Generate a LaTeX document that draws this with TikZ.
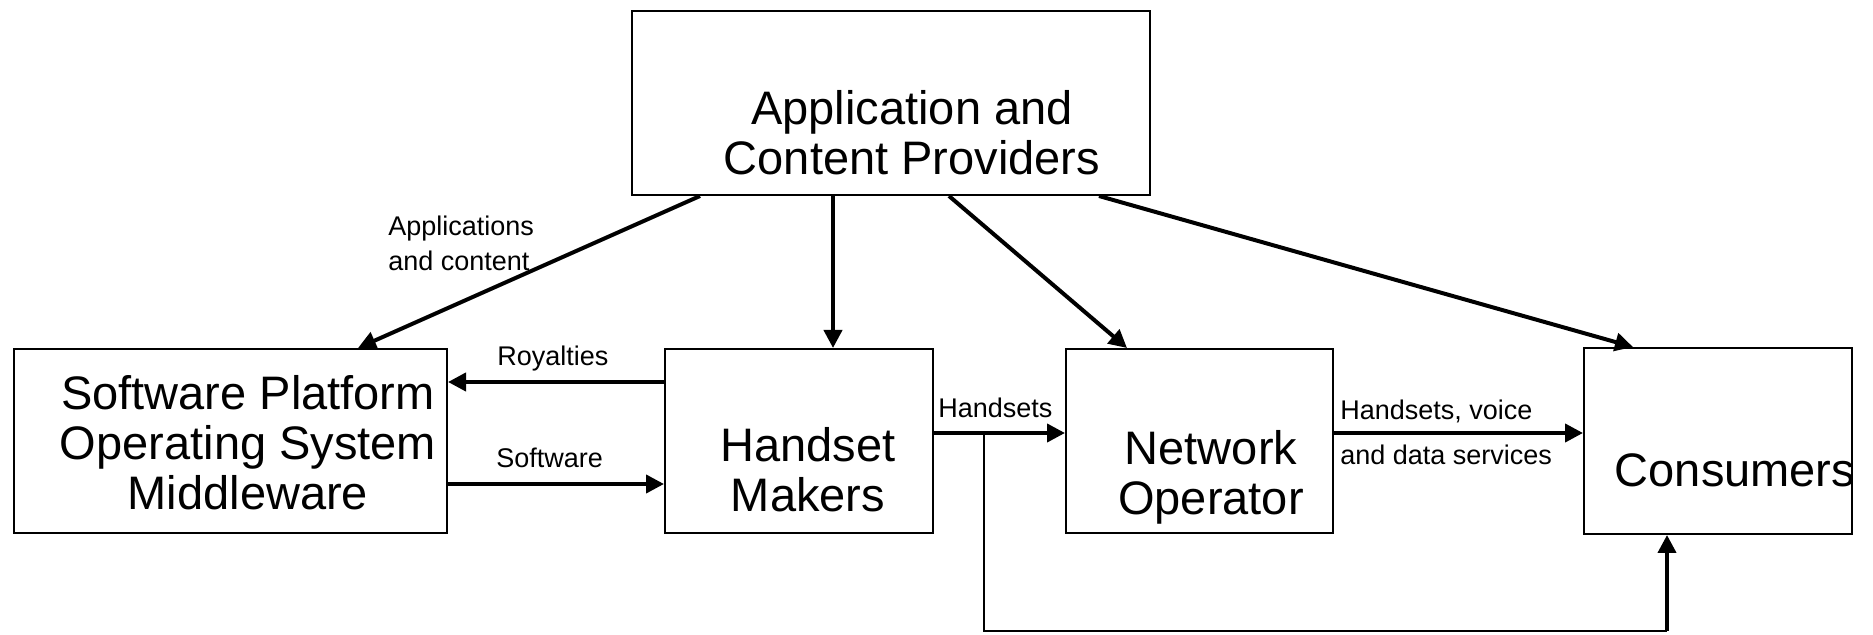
\documentclass[tikz,border=0pt]{standalone}
\usepackage{fontspec}
\setmainfont{Liberation Sans}
\usetikzlibrary{arrows.meta,calc}
\tikzset{
  box/.style={draw, line width=1pt, rectangle, inner sep=0pt, minimum height=92pt},
  bigtxt/.style={font=\fontsize{23.5}{25}\selectfont, align=center, inner sep=0pt},
  smalltxt/.style={font=\fontsize{13.5}{17.5}\selectfont, inner sep=0pt, align=left},
  arr/.style={line width=2pt, -{Triangle[length=9pt,width=9pt]}},
  thinline/.style={line width=1pt}
}
\begin{document}
\begin{tikzpicture}[x=0.5pt,y=-0.5pt]
\useasboundingbox (0,0) rectangle (1873,635);
% boxes
\node[box, minimum width=259pt] (top) at (891,103) {};
\node[box, minimum width=216.5pt] (sp) at (230.5,441) {};
\node[box, minimum width=134pt] (hm) at (799,441) {};
\node[box, minimum width=133.5pt] (no) at (1199.5,441) {};
\node[box, minimum width=134pt, minimum height=93pt] (co) at (1718,441) {};
% box texts
\node[bigtxt] (topT) at (912,133) {Application and\\Content Providers};
\node[bigtxt] (spT) at (248,443) {Software Platform\\Operating System\\Middleware};
\node[bigtxt] (hmT) at (808,470) {Handset\\Makers};
\node[bigtxt] (noT) at (1211,477) {Network\\Operator};
\node[bigtxt] (coT) at (1735,470) {Consumers};
% connectors from top
\draw[arr] ([xshift=-95.5pt]top.south) -- ([xshift=63.75pt]sp.north);
\draw[arr] ([xshift=-29pt]top.south) -- ([xshift=17pt]hm.north);
\draw[arr] ([xshift=29pt]top.south) -- ([xshift=-36.25pt]no.north);
\draw[arr] ([xshift=104pt]top.south) -- ([xshift=-42.5pt]co.north);
% horizontal
\draw[arr] ([yshift=29.5pt]hm.west) -- ([yshift=29.5pt]sp.east);
\draw[arr] ([yshift=-21.5pt]sp.east) -- ([yshift=-21.5pt]hm.west);
\draw[arr] ([yshift=4pt]hm.east) -- ([yshift=4pt]no.west);
\draw[arr] ([yshift=4pt]no.east) -- ([yshift=4pt]co.west);
% bottom route
\coordinate (br) at ([xshift=25pt,yshift=4pt]hm.east);
\coordinate (cbot) at (1667,631);
\draw[thinline] (br) |- (cbot);
\draw[arr] (cbot) -- (cbot |- co.south);
% labels
\node[smalltxt, anchor=west] (lapp) at (388,243) {Applications\\and content};
\node[smalltxt, anchor=base west] (lroy) at (497,366) {Royalties};
\node[smalltxt, anchor=base west] (lsw) at (496,468) {Software};
\node[smalltxt, anchor=base west] (lhs) at (938,418) {Handsets};
\node[smalltxt, anchor=base west] (lhv1) at (1340,420) {Handsets, voice};
\node[smalltxt, anchor=base west] (lhv2) at (1340,465) {and data services};
\end{tikzpicture}
\end{document}
